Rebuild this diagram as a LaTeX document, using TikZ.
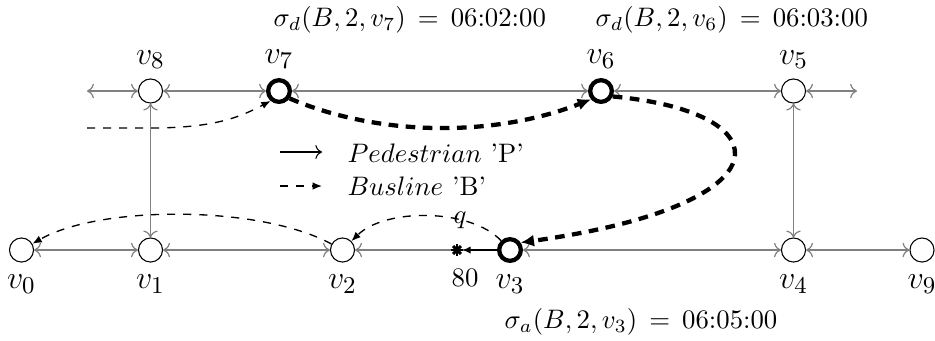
\documentclass[tikz,border=0pt]{standalone}
\usetikzlibrary{arrows.meta}
\begin{document}
\begin{tikzpicture}[x=0.3738pt,y=-0.3738pt,
  vtx/.style={circle,draw,fill=white,minimum size=9pt,inner sep=0pt,line width=0.4pt},
  hot/.style={vtx,line width=1.6pt,minimum size=8.1pt},
  lab/.style={font=\fontsize{13.2}{15}\selectfont},
  road/.style={gray,line width=0.45pt,<->},
  roadone/.style={gray,line width=0.45pt,->},
  bus/.style={dashed,line width=0.5pt,-{Latex[length=3.5pt,width=2.8pt]}},
  busx/.style={line width=1.6pt,dash pattern=on 3.6pt off 2.8pt,-{Latex[length=5pt,width=4.5pt]}},
  walk/.style={line width=0.8pt,-{Latex[length=3pt,width=2.8pt]}},
  txt/.style={inner sep=0pt,anchor=west}
]
\useasboundingbox (0,0) rectangle (935,340);

% vertices
\node[vtx,label={[lab,label distance=1pt]below:$v_0$}] (v0) at (21.5,250) {};
\node[vtx,label={[lab,label distance=1pt]below:$v_1$}] (v1) at (150.5,250) {};
\node[vtx,label={[lab,label distance=1pt]below:$v_2$}] (v2) at (342.5,250) {};
\node[hot,label={[lab,label distance=1pt]below:$v_3$}] (v3) at (510,250) {};
\node[vtx,label={[lab,label distance=1pt]below:$v_4$}] (v4) at (793.5,250) {};
\node[vtx,label={[lab,label distance=1pt]below:$v_9$}] (v9) at (922,250) {};
\node[vtx,label={[lab]above:$v_8$}] (v8) at (150.5,91) {};
\node[hot,label={[lab]above:$v_7$}] (v7) at (279,91) {};
\node[hot,label={[lab]above:$v_6$}] (v6) at (601,91) {};
\node[vtx,label={[lab]above:$v_5$}] (v5) at (793.5,91) {};

\coordinate (fl) at (87,91);
\coordinate (fr) at (857,91);
\coordinate (bs) at (87,128);
\coordinate (bk) at (150,128);

% query point
\node[circle,inner sep=0pt,minimum size=3.7pt] (s) at (457,250) {};
\node[inner sep=0pt] (q) at (460,220) {$q$};
\node[inner sep=0pt] (d) at (465,278) {80};

% road edges
\draw[road] (fl) -- (v8);
\draw[road] (v8) -- (v7);
\draw[road] (v7) -- (v6);
\draw[road] (v6) -- (v5);
\draw[road] (v5) -- (fr);
\draw[road] (v8) -- (v1);
\draw[road] (v5) -- (v4);
\draw[road] (v0) -- (v1);
\draw[road] (v1) -- (v2);
\draw[roadone] (v3) -- (v2);
\draw[road] (v3) -- (v4);
\draw[road] (v4) -- (v9);

% bus lines
\draw[bus] (bs) -- (bk) .. controls (215,128) and (240,117) .. (v7.230);
\draw[busx] (v7.-35) .. controls (380,137) and (495,137) .. (v6.220);
\draw[busx] (v6.-25) .. controls (785,112) and (790,205) .. (v3.35);
\draw[bus] (v3) .. controls (470,208) and (385,208) .. (v2);
\draw[bus] (v2) .. controls (260,205) and (100,205) .. (v0);

% pedestrian
\draw[walk] (v3) -- (s);
\foreach \a in {0,45,90,135}
  \draw[line width=1.1pt] (s.center) ++(\a:2.1pt) -- ++(\a+180:4.2pt);

% legend
\coordinate (la) at (280,152);
\coordinate (lb) at (322,152);
\coordinate (lc) at (280,186);
\coordinate (ld) at (322,186);
\draw[line width=0.4pt,->] (la) -- (lb);
\draw[dashed,line width=0.5pt,-{Latex[length=3.5pt,width=2.8pt]}] (lc) -- (ld);
\node[txt] (lp) at (347,153) {$Pedestrian$ 'P'};
\node[txt] (lq) at (347,186) {$Busline$ 'B'};

% timetable labels
\node[txt] (t1) at (273,20) {$\sigma_d(B,2,v_7)$\hspace{4.5pt}$=$\hspace{4.5pt}06:02:00};
\node[txt] (t2) at (595,20) {$\sigma_d(B,2,v_6)$\hspace{4.5pt}$=$\hspace{4.5pt}06:03:00};
\node[txt] (t3) at (504,322) {$\sigma_a(B,2,v_3)$\hspace{4.5pt}$=$\hspace{4.5pt}06:05:00};
\end{tikzpicture}
\end{document}
